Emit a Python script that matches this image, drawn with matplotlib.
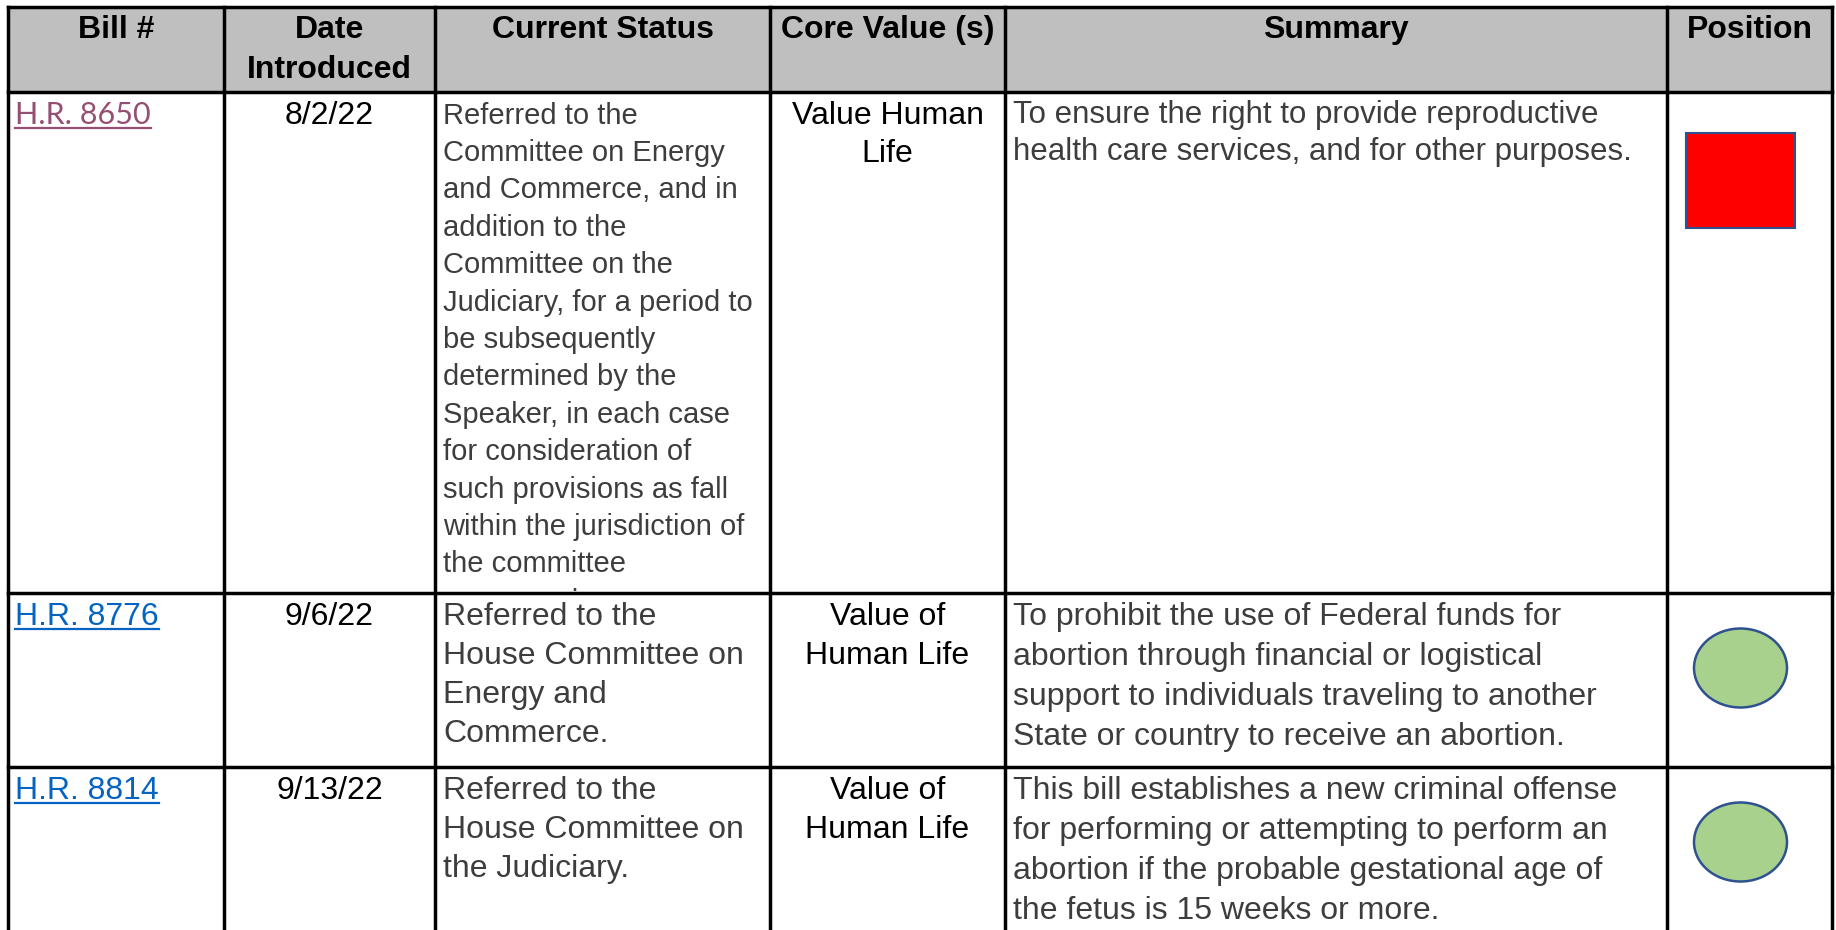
import matplotlib
matplotlib.use("Agg")
import matplotlib.pyplot as plt
from matplotlib.patches import Rectangle, Ellipse

# --- DATA ---
headers = ["Bill #", "Date\nIntroduced", "Current Status", "Core Value (s)", "Summary", "Position"]
bills = ["H.R. 8650", "H.R. 8776", "H.R. 8814"]
bill_visited = [True, False, False]
dates = ["8/2/22", "9/6/22", "9/13/22"]
statuses = [
    ["Referred to the", "Committee on Energy", "and Commerce, and in", "addition to the",
     "Committee on the", "Judiciary, for a period to", "be subsequently",
     "determined by the", "Speaker, in each case", "for consideration of",
     "such provisions as fall", "within the jurisdiction of", "the committee",
     "concerned."],
    ["Referred to the", "House Committee on", "Energy and", "Commerce."],
    ["Referred to the", "House Committee on", "the Judiciary."],
]
core_values = [
    ["Value Human", "Life"],
    ["Value of", "Human Life"],
    ["Value of", "Human Life"],
]
summaries = [
    ["To ensure the right to provide reproductive", "health care services, and for other purposes."],
    ["To prohibit the use of Federal funds for", "abortion through financial or logistical",
     "support to individuals traveling to another", "State or country to receive an abortion."],
    ["This bill establishes a new criminal offense", "for performing or attempting to perform an",
     "abortion if the probable gestational age of", "the fetus is 15 weeks or more."],
]
positions = ["oppose", "support", "support"]

# --- LAYOUT (pixels) ---
W, H = 1836, 930
col_edges = [8, 224, 435, 770, 1005, 1667, 1832]
row_edges = [7, 92, 593, 767, 960]
status_size = [21, 23, 23]
status_step = [37.4, 39, 39]
summary_size = [22.5, 23, 23]
summary_step = [36.5, 40, 40]
FONT = "Liberation Sans"
GRAY = "#3d3d3d"

fig = plt.figure(figsize=(W / 100, H / 100), dpi=100)
ax = fig.add_axes([0, 0, 1, 1])
ax.set_xlim(0, W)
ax.set_ylim(H, 0)
ax.axis("off")

# header fill
ax.add_patch(Rectangle((col_edges[0], row_edges[0]), col_edges[-1] - col_edges[0],
                       row_edges[1] - row_edges[0], facecolor="#bfbfbf", edgecolor="none", zorder=0))

# grid lines
lw = 2.5
for x in col_edges:
    ax.plot([x, x], [row_edges[0], H], color="black", lw=lw, solid_capstyle="projecting", zorder=5)
for y in row_edges[:-1]:
    ax.plot([col_edges[0], col_edges[-1]], [y, y], color="black", lw=lw, solid_capstyle="projecting", zorder=5)

# header text
for i, h in enumerate(headers):
    cx = (col_edges[i] + col_edges[i + 1]) / 2
    for j, line in enumerate(h.split("\n")):
        ax.text(cx, 38 + 40 * j, line, ha="center", va="baseline", fontsize=23,
                fontweight="bold", family=FONT, color="black")

links = []
for r in range(len(bills)):
    top = row_edges[r + 1]
    bot = row_edges[r + 2]
    base = top + 31.5
    cell_clip = Rectangle((col_edges[2], top + 2), col_edges[3] - col_edges[2], bot - top - 4,
                          transform=ax.transData, facecolor="none")

    # bill link
    if bill_visited[r]:
        t = ax.text(col_edges[0] + 7, base, bills[r], ha="left", va="baseline", fontsize=22,
                    family="Lato", color="#954f72")
    else:
        t = ax.text(col_edges[0] + 7, base, bills[r], ha="left", va="baseline", fontsize=23,
                    family=FONT, color="#0563c1")
    links.append((t, base))

    # date
    ax.text((col_edges[1] + col_edges[2]) / 2, base, dates[r], ha="center", va="baseline",
            fontsize=23, family=FONT, color="black")

    # status (clipped to its cell, like the spreadsheet)
    for k, line in enumerate(statuses[r]):
        st = ax.text(col_edges[2] + 8, base + k * status_step[r], line, ha="left", va="baseline",
                     fontsize=status_size[r], family=FONT, color=GRAY, clip_on=True)
        st.set_clip_path(cell_clip)

    # core value
    for k, line in enumerate(core_values[r]):
        ax.text((col_edges[3] + col_edges[4]) / 2, base + k * 39, line, ha="center",
                va="baseline", fontsize=23, family=FONT, color="black")

    # summary
    for k, line in enumerate(summaries[r]):
        ax.text(col_edges[4] + 8, base + k * summary_step[r], line, ha="left", va="baseline",
                fontsize=summary_size[r], family=FONT, color=GRAY)

    # position marker
    px = (col_edges[5] + col_edges[6]) / 2 - 9
    if positions[r] == "oppose":
        ax.add_patch(Rectangle((px - 54.5, top + 41), 109, 95, facecolor="#ff0000",
                               edgecolor="#2f528f", lw=1.5, zorder=3))
    else:
        ax.add_patch(Ellipse((px, top + 75), 93, 79, facecolor="#a9d18e",
                             edgecolor="#2f528f", lw=1.8, zorder=3))

# underline links
fig.canvas.draw()
renderer = fig.canvas.get_renderer()
inv = ax.transData.inverted()
for t, base in links:
    bb = t.get_window_extent(renderer)
    x0, _ = inv.transform((bb.x0, bb.y0))
    x1, _ = inv.transform((bb.x1, bb.y0))
    ax.plot([x0, x1], [base + 4.5, base + 4.5], color=t.get_color(), lw=1.6, zorder=4)

fig.savefig("out.png", dpi=100)
